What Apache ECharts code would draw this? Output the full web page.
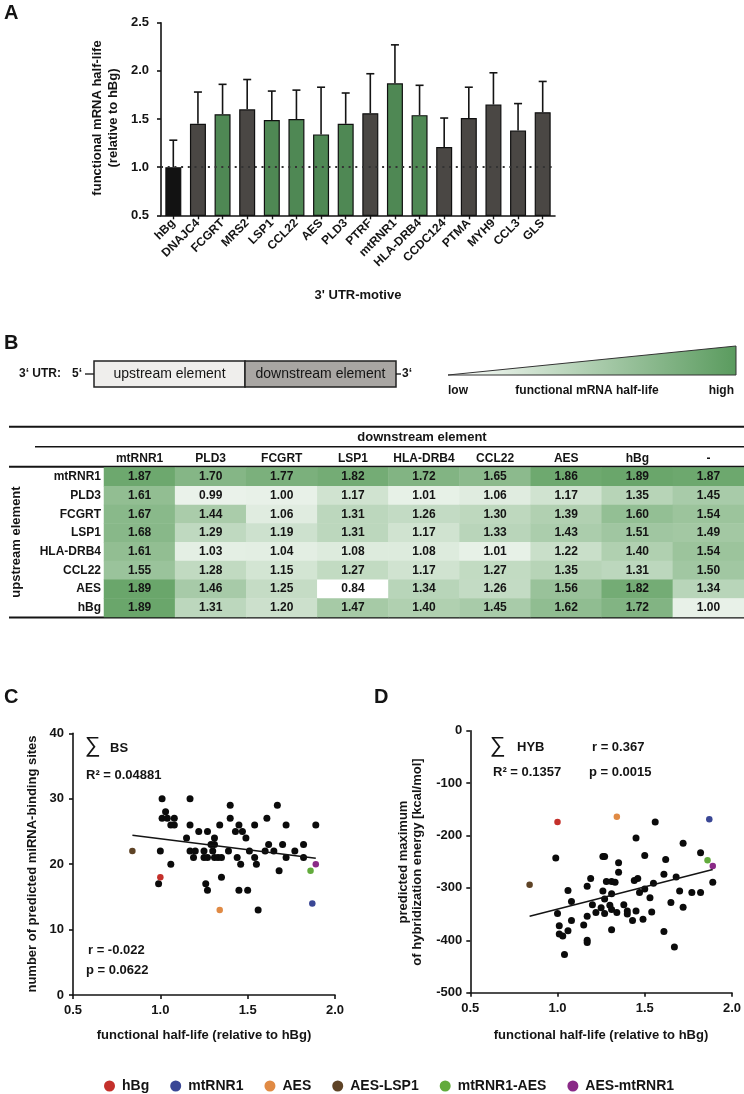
<!DOCTYPE html>
<html><head><meta charset="utf-8">
<script src="https://cdn.jsdelivr.net/npm/echarts@6/dist/echarts.min.js"></script>
<style>html,body{margin:0;padding:0;background:#fff}#c{width:744px;height:1094px}</style>
</head><body><div id="c"></div>
<script>
// ---------- Panel A data ----------
const motifs = ['hBg','DNAJC4','FCGRT','MRS2','LSP1','CCL22','AES','PLD3','PTRF','mtRNR1','HLA-DRB4','CCDC124','PTMA','MYH9','CCL3','GLS'];
const motifHalfLife = [1.00,1.45,1.55,1.60,1.49,1.50,1.34,1.45,1.56,1.87,1.54,1.21,1.51,1.65,1.38,1.57];
const motifErrorTop = [1.28,1.78,1.86,1.91,1.79,1.80,1.83,1.77,1.97,2.27,1.85,1.51,1.83,1.98,1.66,1.89];
const motifGroup = ['ref','other','selected','other','selected','selected','selected','selected','other','selected','selected','other','other','other','other','other'];

// ---------- Panel B data ----------
const upstreamElements = ['mtRNR1','PLD3','FCGRT','LSP1','HLA-DRB4','CCL22','AES','hBg'];
const downstreamElements = ['mtRNR1','PLD3','FCGRT','LSP1','HLA-DRB4','CCL22','AES','hBg','-'];
const rowMtRNR1  = [1.87,1.70,1.77,1.82,1.72,1.65,1.86,1.89,1.87];
const rowPLD3    = [1.61,0.99,1.00,1.17,1.01,1.06,1.17,1.35,1.45];
const rowFCGRT   = [1.67,1.44,1.06,1.31,1.26,1.30,1.39,1.60,1.54];
const rowLSP1    = [1.68,1.29,1.19,1.31,1.17,1.33,1.43,1.51,1.49];
const rowHLADRB4 = [1.61,1.03,1.04,1.08,1.08,1.01,1.22,1.40,1.54];
const rowCCL22   = [1.55,1.28,1.15,1.27,1.17,1.27,1.35,1.31,1.50];
const rowAES     = [1.89,1.46,1.25,0.84,1.34,1.26,1.56,1.82,1.34];
const rowHBg     = [1.89,1.31,1.20,1.47,1.40,1.45,1.62,1.72,1.00];
const heatRows = [rowMtRNR1,rowPLD3,rowFCGRT,rowLSP1,rowHLADRB4,rowCCL22,rowAES,rowHBg];

// ---------- Panel C data (half-life, binding sites) ----------
const bsOtherPoints = [
  [1.01,30],[1.17,30],[1.40,29],[1.67,29],[1.03,28],
  [1.01,27],[1.04,27],[1.08,27],[1.40,27],[1.61,27],
  [1.06,26],[1.08,26],[1.17,26],[1.34,26],[1.45,26],[1.54,26],[1.72,26],[1.89,26],
  [1.22,25],[1.27,25],[1.43,25],[1.47,25],
  [1.15,24],[1.31,24],[1.49,24],
  [1.29,23],[1.31,23],[1.62,23],[1.70,23],[1.82,23],
  [1.00,22],[1.17,22],[1.20,22],[1.25,22],[1.30,22],[1.39,22],[1.51,22],[1.60,22],[1.65,22],[1.77,22],
  [1.19,21],[1.25,21],[1.27,21],[1.31,21],[1.33,21],[1.35,21],[1.44,21],[1.54,21],[1.72,21],[1.82,21],
  [1.06,20],[1.46,20],[1.55,20],
  [1.68,19],[1.35,18],[0.99,17],[1.26,17],
  [1.27,16],[1.45,16],[1.50,16],[1.56,13]
];
const bsFitLine = [[0.84,24.4],[1.89,20.9]];

// ---------- Panel D data (half-life, hybridization energy) ----------
const hybOtherPoints = [
  [1.56,-174],[1.45,-205],[1.72,-215],[1.82,-233],[0.99,-243],[1.26,-240],[1.27,-240],[1.35,-252],
  [1.50,-238],[1.62,-246],[1.35,-270],[1.19,-282],[1.28,-288],[1.31,-288],[1.33,-289],[1.44,-286],
  [1.46,-282],[1.61,-274],[1.68,-279],[1.55,-291],[1.89,-289],[1.17,-297],[1.06,-305],
  [1.26,-306],[1.31,-311],[1.47,-309],[1.50,-302],[1.70,-306],[1.77,-309],[1.82,-309],
  [1.08,-326],[1.27,-321],[1.20,-332],[1.38,-332],[1.30,-333],[1.53,-319],[1.65,-328],[1.72,-337],
  [1.00,-349],[1.22,-347],[1.25,-338],[1.27,-349],[1.31,-341],[1.34,-347],[1.40,-344],[1.40,-350],
  [1.45,-344],[1.54,-346],[1.17,-354],[1.08,-362],[1.43,-362],[1.49,-360],[1.15,-371],[1.01,-372],
  [1.06,-382],[1.31,-380],[1.61,-383],[1.01,-388],[1.03,-392],[1.17,-400],[1.17,-404],[1.67,-413],[1.04,-427]
];
const hybFitLine = [[0.84,-354],[1.89,-265]];

// ---------- Highlighted constructs ----------
const highlightNames = ['hBg','mtRNR1','AES','AES-LSP1','mtRNR1-AES','AES-mtRNR1'];
const highlightHalfLife = [1.00,1.87,1.34,0.84,1.86,1.89];
const highlightBS = [18,14,13,22,19,20];
const highlightHYB = [-174,-169,-164,-294,-247,-258];

// ---------- styles ----------
const FONT = "'Liberation Sans', Arial, Helvetica, sans-serif";
const highlightColors = ['#c4302b','#3a4795','#e08a44','#5e4326','#62ab3c','#8a2a87'];
const groupColor = {ref:'#121212', other:'#4a4744', selected:'#4f8854'};
const ink = '#141414';

function txt(text, x, y, opt) {
  opt = opt || {};
  return {
    type:'text', x:x, y:y, rotation: opt.rotation || 0, silent:true,
    style:{
      text:text, x:0, y:0,
      fontSize: opt.size || 13, fontWeight: opt.weight || 'bold', fontFamily: FONT,
      fill: opt.color || ink,
      textAlign: opt.align || 'left', align: opt.align || 'left',
      textVerticalAlign:'middle', verticalAlign:'middle',
      lineHeight: opt.lineHeight || undefined
    }
  };
}
function hline(x1,x2,y,w){return {type:'line',silent:true,shape:{x1:x1,y1:y,x2:x2,y2:y},style:{stroke:ink,lineWidth:w}};}

const heatData = [];
heatRows.forEach((row,r)=>row.forEach((v,c)=>heatData.push([c,r,v])));

const axisLineStyle = {show:true,onZero:false,lineStyle:{color:ink,width:1.6}};
const axisTickStyle = {show:true,inside:false,length:4,lineStyle:{color:ink,width:1.6}};
const tickLabel = {fontSize:13,fontWeight:'bold',color:ink,fontFamily:FONT};

const option = {
  animation:false,
  textStyle:{fontFamily:FONT},
  grid:[
    {left:161, top:22.7, width:394, height:192.6},
    {left:104, top:467.5, width:640, height:149.6},
    {left:73, top:733.3, width:262, height:261.7},
    {left:470.3, top:730.7, width:261.7, height:262}
  ],
  xAxis:[
    {gridIndex:0,type:'category',data:motifs,axisLine:axisLineStyle,
     axisTick:{show:true,alignWithLabel:true,length:4,lineStyle:{color:ink,width:1.4}},
     axisLabel:{rotate:45,interval:0,margin:6,fontSize:12,fontWeight:'bold',color:ink,fontFamily:FONT}},
    {gridIndex:1,type:'category',data:downstreamElements,position:'top',axisLine:{show:false},axisTick:{show:false},
     axisLabel:{interval:0,margin:3,fontSize:12,fontWeight:'bold',color:ink,fontFamily:FONT}},
    {gridIndex:2,type:'value',position:'bottom',min:0.5,max:2.0,interval:0.5,axisLine:axisLineStyle,axisTick:axisTickStyle,splitLine:{show:false},
     axisLabel:Object.assign({margin:9,formatter:v=>v.toFixed(1)},tickLabel)},
    {gridIndex:3,type:'value',position:'bottom',min:0.5,max:2.0,interval:0.5,axisLine:axisLineStyle,axisTick:axisTickStyle,splitLine:{show:false},
     axisLabel:Object.assign({margin:9,formatter:v=>v.toFixed(1)},tickLabel)}
  ],
  yAxis:[
    {gridIndex:0,type:'value',min:0.5,max:2.5,interval:0.5,axisLine:axisLineStyle,axisTick:axisTickStyle,splitLine:{show:false},
     axisLabel:Object.assign({margin:12,formatter:v=>v.toFixed(1)},tickLabel)},
    {gridIndex:1,type:'category',data:upstreamElements,inverse:true,axisLine:{show:false},axisTick:{show:false},
     axisLabel:{interval:0,margin:3,fontSize:12,fontWeight:'bold',color:ink,fontFamily:FONT}},
    {gridIndex:2,type:'value',min:0,max:40,interval:10,axisLine:axisLineStyle,axisTick:axisTickStyle,splitLine:{show:false},
     axisLabel:Object.assign({margin:9},tickLabel)},
    {gridIndex:3,type:'value',min:-500,max:0,interval:100,axisLine:axisLineStyle,axisTick:axisTickStyle,splitLine:{show:false},
     axisLabel:Object.assign({margin:8},tickLabel)}
  ],
  visualMap:{show:false,seriesIndex:3,min:0.84,max:1.89,dimension:2,inRange:{color:['#ffffff','#6aa66b']}},
  legend:{
    data:highlightNames, left:99, top:1074, icon:'circle', itemWidth:11, itemHeight:11, itemGap:21,
    textStyle:{fontSize:14,fontWeight:'bold',color:ink,fontFamily:FONT,padding:[0,0,0,2]}, selectedMode:false
  },
  series:[
    {type:'line',xAxisIndex:0,yAxisIndex:0,data:[],z:1,silent:true,
     markLine:{silent:true,symbol:'none',label:{show:false},lineStyle:{type:[2,4.7],width:2,color:'#333'},data:[{yAxis:1}]}},
    {type:'bar',xAxisIndex:0,yAxisIndex:0,z:3,barWidth:16,
     data:motifHalfLife.map((v,i)=>({value:v,itemStyle:{color:groupColor[motifGroup[i]]}})),
     itemStyle:{borderColor:'#101010',borderWidth:1.2}},
    {type:'custom',xAxisIndex:0,yAxisIndex:0,z:4,silent:true,
     data:motifs.map((m,i)=>[i,motifHalfLife[i],motifErrorTop[i]]),
     renderItem:function(params,api){
       const p1=api.coord([api.value(0),api.value(1)]);
       const p2=api.coord([api.value(0),api.value(2)]);
       return {type:'group',children:[
         {type:'line',shape:{x1:p1[0],y1:p1[1],x2:p2[0],y2:p2[1]},style:{stroke:ink,lineWidth:1.6}},
         {type:'line',shape:{x1:p2[0]-4,y1:p2[1],x2:p2[0]+4,y2:p2[1]},style:{stroke:ink,lineWidth:1.6}}
       ]};
     }},
    {type:'heatmap',xAxisIndex:1,yAxisIndex:1,data:heatData,
     label:{show:true,fontSize:12,fontWeight:'bold',color:ink,fontFamily:FONT,formatter:p=>p.value[2].toFixed(2)},
     itemStyle:{borderWidth:0}},
    {type:'scatter',xAxisIndex:2,yAxisIndex:2,data:bsOtherPoints,symbolSize:7,itemStyle:{color:'#0b0b0b',opacity:1},z:3},
    {type:'line',xAxisIndex:2,yAxisIndex:2,data:bsFitLine,showSymbol:false,symbol:'none',lineStyle:{color:ink,width:1.5},z:4},
    {type:'scatter',xAxisIndex:3,yAxisIndex:3,data:hybOtherPoints,symbolSize:7,itemStyle:{color:'#0b0b0b',opacity:1},z:3},
    {type:'line',xAxisIndex:3,yAxisIndex:3,data:hybFitLine,showSymbol:false,symbol:'none',lineStyle:{color:ink,width:1.5},z:4}
  ].concat(
    highlightNames.map((n,i)=>({type:'scatter',name:n,xAxisIndex:2,yAxisIndex:2,z:5,symbolSize:6.5,
      itemStyle:{color:highlightColors[i],opacity:1},data:[[highlightHalfLife[i],highlightBS[i]]]})),
    highlightNames.map((n,i)=>({type:'scatter',name:n,xAxisIndex:3,yAxisIndex:3,z:5,symbolSize:6.5,
      itemStyle:{color:highlightColors[i],opacity:1},data:[[highlightHalfLife[i],highlightHYB[i]]]}))
  ),
  graphic:[
    txt('A',4,13,{size:20}), txt('B',4,343,{size:20}), txt('C',4,697,{size:20}), txt('D',374,697,{size:20}),
    txt('functional mRNA half-life\n(relative to hBg)',105,118,{rotation:Math.PI/2,align:'center',lineHeight:16}),
    txt("3' UTR-motive",358,295,{align:'center'}),
    txt('3‘ UTR:',19,374,{size:12}), txt('5‘',72,374,{size:12}),
    hline(85,94,374,1.3),
    {type:'rect',silent:true,shape:{x:94,y:361,width:151,height:26},style:{fill:'#efeeec',stroke:'#222',lineWidth:1.5}},
    {type:'rect',silent:true,shape:{x:245,y:361,width:151,height:26},style:{fill:'#a9a6a3',stroke:'#222',lineWidth:1.5}},
    txt('upstream element',169.5,374,{size:14,weight:'normal',align:'center'}),
    txt('downstream element',320.5,374,{size:14,weight:'normal',align:'center'}),
    hline(396,401,374,1.3), txt('3‘',402,374,{size:12}),
    {type:'polygon',silent:true,shape:{points:[[448,375],[736,346],[736,375]]},
     style:{stroke:'#333',lineWidth:1,fill:new echarts.graphic.LinearGradient(0,0,1,0,[{offset:0,color:'#ffffff'},{offset:1,color:'#5a9b5e'}])}},
    txt('low',448,391,{size:12}), txt('functional mRNA half-life',587,391,{size:12,align:'center'}),
    txt('high',734,391,{size:12,align:'right'}),
    hline(9,744,426.7,2), hline(35,744,446.7,1.5), hline(9,744,466.7,2), hline(9,744,617.5,2),
    txt('downstream element',422,437.5,{size:13,align:'center'}),
    txt('upstream element',16,542,{rotation:Math.PI/2,align:'center'}),
    txt('∑',85,746,{size:22,weight:'normal'}), txt('BS',110,748,{size:13}),
    txt('R² = 0.04881',86,775), txt('r = -0.022',88,950), txt('p = 0.0622',86,970),
    txt('number of predicted miRNA-binding sites',32,864,{rotation:Math.PI/2,align:'center'}),
    txt('functional half-life (relative to hBg)',204,1035,{align:'center'}),
    txt('∑',490,746,{size:22,weight:'normal'}), txt('HYB',517,747,{size:13}),
    txt('r = 0.367',592,747), txt('R² = 0.1357',493,772), txt('p = 0.0015',589,772),
    txt('predicted maximum\nof hybridization energy [kcal/mol]',410,862,{rotation:Math.PI/2,align:'center',lineHeight:14}),
    txt('functional half-life (relative to hBg)',601,1035,{align:'center'})
  ]
};
const chart = echarts.init(document.getElementById('c'),null,{renderer:'canvas'});
chart.setOption(option);
</script></body></html>
